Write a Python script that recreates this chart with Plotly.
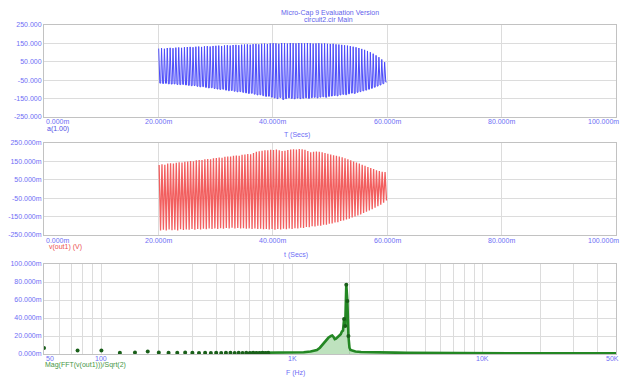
import math
import plotly.graph_objects as go

# ------------------------------------------------------------------ data
title_lines = ["Micro-Cap 9 Evaluation Version", "circuit2.cir Main"]

time_ticks = [0, 20, 40, 60, 80, 100]  # ms
time_tick_labels = ["0.000m", "20.000m", "40.000m", "60.000m", "80.000m", "100.000m"]

a_ticks = [250, 150, 50, -50, -150, -250]
a_tick_labels = ["250.000", "150.000", "50.000", "-50.000", "-150.000", "-250.000"]

v_ticks = [250, 150, 50, -50, -150, -250]  # mV
v_tick_labels = ["250.000m", "150.000m", "50.000m", "-50.000m", "-150.000m", "-250.000m"]

fft_ticks = [100, 80, 60, 40, 20, 0]  # mV
fft_tick_labels = ["100.000m", "80.000m", "60.000m", "40.000m", "20.000m", "0.000m"]

freq_ticks = [50, 100, 1000, 10000, 50000]
freq_tick_labels = ["50", "100", "1K", "10K", "50K"]
freq_grid = [60, 70, 80, 90, 100, 200, 300, 400, 500, 600, 700, 800, 900,
             1000, 2000, 3000, 4000, 5000, 6000, 7000, 8000, 9000,
             10000, 20000, 30000, 40000]

burst_start_ms = 20.0
cycle_ms = 0.5

# a(1.00): per-cycle maxima / minima
a_peak = [122, 124, 121, 125, 126, 124, 127, 128, 126, 129,
          130, 131, 129, 132, 133, 131, 134, 135, 133, 136,
          137, 138, 136, 139, 140, 138, 141, 142, 140, 143,
          144, 145, 143, 146, 147, 145, 148, 149, 147, 150,
          151, 150, 148, 152, 151, 149, 152, 151, 150, 152,
          151, 150, 152, 151, 149, 150, 151, 149, 150, 148,
          147, 148, 145, 144, 142, 140, 138, 135, 132, 129,
          125, 120, 115, 109, 102, 94, 85, 75, 63, 48]
a_trough = [-66, -68, -67, -70, -71, -70, -73, -74, -73, -76,
            -78, -80, -79, -83, -86, -85, -89, -92, -91, -95,
            -98, -100, -99, -104, -107, -106, -110, -113, -112, -116,
            -119, -122, -121, -126, -130, -129, -134, -138, -137, -142,
            -146, -150, -144, -155, -150, -146, -149, -151, -147, -150,
            -148, -146, -149, -145, -143, -146, -142, -140, -143, -138,
            -136, -133, -135, -130, -127, -129, -124, -120, -122, -116,
            -112, -108, -104, -99, -94, -88, -82, -76, -69, -60]

# v(out1) in mV: per-cycle maxima / minima
vout_peak = [130, 134, 132, 138, 140, 139, 143, 145, 144, 148,
             150, 152, 151, 156, 158, 157, 161, 163, 162, 167,
             169, 171, 170, 175, 177, 176, 180, 182, 181, 186,
             188, 190, 189, 196, 202, 205, 208, 211, 210, 213,
             212, 214, 210, 206, 208, 212, 215, 216, 214, 217,
             216, 213, 206, 200, 203, 204, 202, 199, 196, 192,
             188, 184, 180, 176, 172, 167, 162, 156, 150, 144,
             138, 132, 126, 120, 114, 108, 102, 97, 93, 92]
vout_trough = [-225, -222, -226, -220, -224, -221, -225, -219, -223, -220,
               -222, -218, -221, -217, -220, -216, -219, -215, -218, -214,
               -217, -213, -216, -212, -215, -211, -214, -212, -215, -213,
               -216, -214, -217, -215, -218, -216, -219, -217, -220, -218,
               -221, -218, -220, -216, -219, -215, -218, -213, -215, -210,
               -212, -207, -208, -203, -204, -199, -199, -194, -194, -189,
               -188, -182, -180, -174, -171, -165, -161, -155, -150, -144,
               -138, -131, -124, -117, -110, -102, -94, -85, -75, -62]

# FFT magnitude (mV) – discrete points
fft_dot_freq = [50, 75, 100, 125, 150, 175, 200, 225, 250, 275, 300, 325, 350,
                375, 400, 425, 450, 475, 500, 525, 550, 575, 600, 625, 650,
                675, 700, 725, 750, 1875, 1900, 1925, 1950, 1975]
fft_dot_mag = [6.6, 4.0, 4.0, 1.3, 1.8, 2.8, 1.6, 1.3, 1.5, 1.6, 1.3, 1.2, 1.4,
               1.2, 1.3, 1.2, 1.3, 1.4, 1.2, 1.3, 1.2, 1.3, 1.2, 1.3, 1.2,
               1.2, 1.3, 1.2, 1.3, 39, 31, 77, 59, 20]
# FFT magnitude (mV) – dense part drawn as a curve
fft_curve_freq = [600, 750, 850, 950, 1050, 1150, 1250, 1350, 1400, 1450, 1500,
                  1550, 1600, 1625, 1650, 1675, 1700, 1750, 1800, 1825, 1850,
                  1875, 1900, 1925, 1950, 1975, 2000, 2025, 2075, 2150, 2300,
                  2500, 3000, 3500, 4000, 5000, 6000, 8000, 10000, 15000,
                  20000, 30000, 40000, 50000]
fft_curve_mag = [1.2, 1.2, 1.3, 1.4, 1.6, 2.0, 2.8, 4.5, 7.0, 11, 15,
                 18, 20, 20.5, 19, 16.5, 17, 19.5, 22, 25, 26,
                 39, 31, 77, 59, 20, 7, 4.5, 3.5, 2.8, 2.2,
                 1.9, 1.6, 1.5, 1.3, 1.1, 1.0, 0.9, 0.8, 0.7,
                 0.7, 0.6, 0.6, 0.7]

# ------------------------------------------------------------------ build series
a_t, a_y = [], []
for i, (p, q) in enumerate(zip(a_peak, a_trough)):
    t0 = burst_start_ms + i * cycle_ms
    a_t += [t0 + 0.1 * cycle_ms, t0 + 0.5 * cycle_ms, t0 + 0.8 * cycle_ms]
    a_y += [p, q, q]

v_t, v_y = [], []
for i, (p, q) in enumerate(zip(vout_peak, vout_trough)):
    t0 = burst_start_ms + i * cycle_ms
    v_t += [t0 + 0.25 * cycle_ms, t0 + 0.75 * cycle_ms]
    v_y += [p, q]

# ------------------------------------------------------------------ figure
W, H = 621, 386
PX_L, PX_R = 44, 616
panels = {  # top/bottom pixel rows of each plot area
    1: (25, 117),
    2: (143, 235),
    3: (264, 354),
}


def ydom(k):
    t, b = panels[k]
    return [1 - b / H, 1 - t / H]


xdom = [PX_L / W, PX_R / W]
TICK_BLUE = "rgb(110,110,245)"
FONT = "Liberation Sans, Arial, sans-serif"
GRID = "#dcdcdc"
FRAME = "#c2c2c2"

fig = go.Figure()
fig.add_trace(go.Scatter(x=a_t, y=a_y, mode="lines",
                         line=dict(color="rgb(75,75,250)", width=1),
                         xaxis="x", yaxis="y", showlegend=False))
fig.add_trace(go.Scatter(x=v_t, y=v_y, mode="lines",
                         line=dict(color="rgb(242,95,95)", width=1.3),
                         xaxis="x2", yaxis="y2", showlegend=False))
fig.add_trace(go.Scatter(x=fft_curve_freq, y=fft_curve_mag, mode="lines",
                         fill="tozeroy", fillcolor="rgba(110,190,110,0.45)",
                         line=dict(color="rgb(35,135,35)", width=2.6),
                         xaxis="x3", yaxis="y3", showlegend=False))
fig.add_trace(go.Scatter(x=fft_dot_freq, y=fft_dot_mag, mode="markers",
                         marker=dict(color="rgb(25,95,25)", size=4),
                         xaxis="x3", yaxis="y3", showlegend=False))

common = dict(showgrid=True, gridcolor=GRID, gridwidth=1, showline=True,
              linecolor=FRAME, linewidth=1, mirror=True, zeroline=False,
              ticks="", tickfont=dict(size=7, color=TICK_BLUE, family=FONT),
              fixedrange=True, automargin=False)

fig.update_layout(
    width=W, height=H, margin=dict(l=0, r=0, t=0, b=0, autoexpand=False),
    paper_bgcolor="white", plot_bgcolor="white",
    xaxis=dict(domain=xdom, anchor="y", range=[0, 100], tickvals=time_ticks,
               showticklabels=False, **common),
    yaxis=dict(domain=ydom(1), anchor="x", range=[-250, 250], tickvals=a_ticks,
               ticktext=a_tick_labels, **common),
    xaxis2=dict(domain=xdom, anchor="y2", range=[0, 100], tickvals=time_ticks,
                showticklabels=False, **common),
    yaxis2=dict(domain=ydom(2), anchor="x2", range=[-250, 250], tickvals=v_ticks,
                ticktext=v_tick_labels, **common),
    xaxis3=dict(domain=xdom, anchor="y3", type="log",
                range=[math.log10(freq_ticks[0]), math.log10(freq_ticks[-1])],
                tickvals=freq_grid, showticklabels=False, **common),
    yaxis3=dict(domain=ydom(3), anchor="x3", range=[0, 100], tickvals=fft_ticks,
                ticktext=fft_tick_labels, **common),
)

ann = []


def txt(x, y, s, color=TICK_BLUE, xanchor="center", xref="paper", size=7):
    ann.append(dict(x=x, y=y, xref=xref, yref="paper", text=s, showarrow=False,
                    xanchor=xanchor, yanchor="middle",
                    font=dict(size=size, color=color, family=FONT)))


# x tick labels (first one left-aligned, last one kept inside the window)
for xr, ypx in (("x", 121), ("x2", 240)):
    for v, lab in zip(time_ticks, time_tick_labels):
        if v == time_ticks[-1]:
            txt(1.0, 1 - ypx / H, lab, xanchor="right")
        else:
            txt(v, 1 - ypx / H, lab,
                xanchor="left" if v == time_ticks[0] else "center", xref=xr)
for v, lab in zip(freq_ticks, freq_tick_labels):
    if v == freq_ticks[-1]:
        txt(1.0, 1 - 358 / H, lab, xanchor="right")
    else:
        txt(math.log10(v), 1 - 358 / H, lab,
            xanchor="left" if v == freq_ticks[0] else "center", xref="x3")

# axis titles
txt(297 / W, 1 - 135 / H, "T (Secs)")
txt(296 / W, 1 - 255 / H, "t (Secs)")
txt(295 / W, 1 - 373 / H, "F (Hz)")

# trace labels
txt(45 / W, 1 - 129 / H, "a(1.00)", color="rgb(80,80,230)", xanchor="left")
txt(47 / W, 1 - 247 / H, "v(out1) (V)", color="rgb(235,80,80)", xanchor="left")
txt(43 / W, 1 - 365 / H, "Mag(FFT(v(out1)))/Sqrt(2)", color="rgb(70,150,70)",
    xanchor="left")

# title
txt(330 / W, 1 - 13 / H, title_lines[0], color="rgb(95,95,235)")
txt(328 / W, 1 - 20 / H, title_lines[1], color="rgb(95,95,235)")

fig.update_layout(annotations=ann)
fig.write_html("out.html",
               config={"displayModeBar": False, "staticPlot": True},
               post_script="document.body.style.margin='0';"
                           "document.body.style.overflow='hidden';")
